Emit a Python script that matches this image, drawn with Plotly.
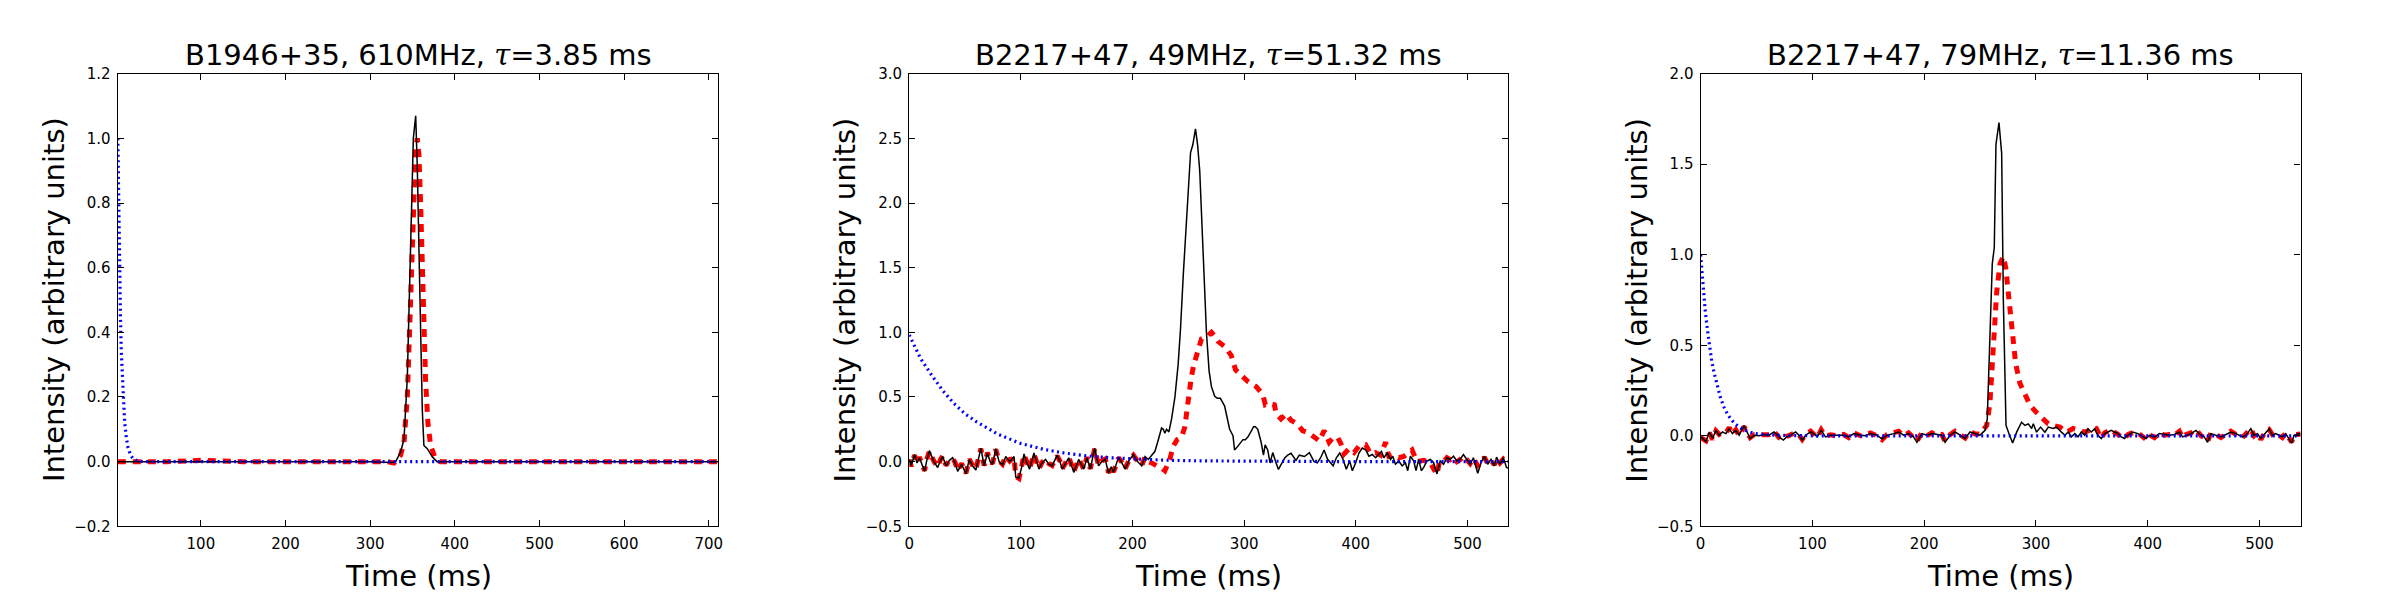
import plotly.graph_objects as go

# ---------------- data ----------------
titles = ["B1946+35, 610MHz, ", "B2217+47, 49MHz, ", "B2217+47, 79MHz, "]
tau_text = ["3.85 ms", "51.32 ms", "11.36 ms"]
x_label = "Time (ms)"
y_label = "Intensity (arbitrary units)"

x_ranges = [[1.9, 711.3], [0, 536.5], [0, 536.7]]
y_ranges = [[-0.2, 1.2], [-0.5, 3.0], [-0.5, 2.0]]
x_ticks = [[100, 200, 300, 400, 500, 600, 700],
           [0, 100, 200, 300, 400, 500],
           [0, 100, 200, 300, 400, 500]]
y_ticks = [[-0.2, 0.0, 0.2, 0.4, 0.6, 0.8, 1.0, 1.2],
           [-0.5, 0.0, 0.5, 1.0, 1.5, 2.0, 2.5, 3.0],
           [-0.5, 0.0, 0.5, 1.0, 1.5, 2.0]]
y_ticktext = [["\u22120.2", "0.0", "0.2", "0.4", "0.6", "0.8", "1.0", "1.2"],
              ["\u22120.5", "0.0", "0.5", "1.0", "1.5", "2.0", "2.5", "3.0"],
              ["\u22120.5", "0.0", "0.5", "1.0", "1.5", "2.0"]]

# ---- panel 1 : B1946+35 610 MHz ----
t1_obs = [1.9, 50, 100, 150, 200, 250, 300, 325, 330.2, 336,
          340, 343.9, 347.8, 351, 353.8, 355.7, 358.4, 361.6, 363.5, 367.5,
          373.3, 379, 400, 450, 500, 550, 600, 650, 700, 711.3]
v1_obs = [0.0, 0.0, 0.0, 0.0, 0.0, 0.0, 0.0, -0.003, 0.0, 0.03,
          0.07, 0.26, 0.71, 1.0, 1.07, 0.91, 0.56, 0.16, 0.05, 0.04,
          0.015, 0.0, 0.0, 0.0, 0.0, 0.0, 0.0, 0.0, 0.0, 0.0]
t1_fit = [1.9, 30, 60, 100, 150, 200, 250, 300, 320, 328.2,
          336, 340, 343.9, 347.8, 351, 353.8, 355.7, 357.6, 359.6, 361.6,
          363.5, 365.5, 368.2, 371.4, 377, 383, 420, 500, 600, 711.3]
v1_fit = [0.0, 0.0, 0.0, 0.004, 0.0, 0.0, 0.0, 0.0, 0.0, -0.004,
          0.02, 0.06, 0.2, 0.5, 0.8, 0.97, 1.0, 0.95, 0.8, 0.6,
          0.38, 0.25, 0.12, 0.05, 0.01, 0.0, 0.0, 0.0, 0.0, 0.0]
t1_ker = [1.9, 2.5, 3, 3.5, 4, 5, 6, 7, 8, 9,
          10, 12, 14, 17, 20, 25, 30, 40, 711.3]
v1_ker = [1.0, 0.86, 0.75, 0.66, 0.58, 0.45, 0.34, 0.27, 0.205, 0.16,
          0.12, 0.073, 0.043, 0.02, 0.009, 0.0025, 0.0007, 0.0, 0.0]

# ---- panel 2 : B2217+47 49 MHz ----
t2_obs = [0, 1.8, 4.75, 7, 9.2, 11.5, 13.7, 16, 18.1, 22,
          25.5, 28, 30, 33, 36, 38.9, 41, 43.4, 47, 50.8,
          53.8, 56.5, 59.7, 62, 64.2, 67.1, 70.1, 72.5, 74.6, 77.5,
          80.5, 83.5, 86.5, 90, 93.9, 95.4, 98.3, 100.5, 102.8, 105,
          107.8, 111.7, 114, 116.2, 119, 122.1, 125, 128, 132.5, 135,
          137, 140, 142.9, 145, 147.4, 151.8, 154, 156.3, 159.2, 162.2,
          166.1, 169.6, 172.5, 175.6, 178.5, 181, 183, 187.5, 190.5, 193.4,
          197, 200.8, 204.5, 208.3, 211.2, 214.2, 217.2, 220.1, 222.5, 224.6,
          226, 227.6, 229, 230.5, 232.6, 235, 238, 240.9, 243, 245.5,
          247.8, 250, 252, 254, 256.4, 258.3, 260.2, 263.2, 266.2, 268.6,
          270.7, 273.6, 276, 278.7, 282.5, 285, 287, 290, 291.4, 294.4,
          296.5, 298.9, 301, 303.3, 306, 308.4, 310, 312.2, 315.2, 317.3,
          318.8, 321.1, 323.2, 325.6, 328.6, 330.7, 333.9, 336.5, 339, 342,
          346.4, 349.4, 354, 358.4, 362.6, 365.6, 368.5, 371.6, 374.6, 377.6,
          379.7, 382.6, 385.6, 388.6, 391.5, 394.5, 396.9, 399.9, 402.8, 405.8,
          408.8, 411.7, 414.7, 417.7, 420.7, 423, 425.1, 428.1, 431.1, 433.1,
          435.5, 438.5, 441.5, 444.4, 446.5, 448.9, 451.9, 453.9, 456.3, 458.7,
          460.8, 463.7, 466.7, 469.7, 472.7, 475.6, 478.6, 481.6, 484.5, 487.5,
          490.5, 493.4, 496.4, 499.4, 502.4, 505.3, 509.2, 512.2, 515.1, 518.1,
          521.1, 524.1, 526.1, 529.1, 532.1, 535, 536.5]
v2_obs = [0.02, -0.03, 0.055, -0.01, 0.03, -0.02, -0.075, 0.02, 0.085, 0.0,
          -0.045, 0.01, 0.04, -0.033, 0.01, 0.03, -0.01, -0.075, -0.02, -0.095,
          0.017, -0.03, -0.065, 0.02, 0.105, -0.033, 0.067, 0.0, -0.02, 0.10,
          0.0, -0.025, 0.04, 0.0, 0.04, -0.12, -0.125, -0.05, 0.06, 0.0,
          -0.058, 0.067, 0.0, -0.058, -0.01, 0.017, -0.02, -0.033, 0.05, 0.0,
          -0.058, -0.01, 0.03, -0.02, -0.083, 0.017, -0.02, -0.058, 0.03, -0.058,
          0.105, -0.033, 0.0, 0.017, -0.09, -0.04, -0.083, 0.035, -0.01, -0.058,
          0.01, 0.055, 0.0, -0.033, 0.04, 0.017, 0.05, 0.08, 0.15, 0.217,
          0.26, 0.25, 0.22, 0.25, 0.23, 0.33, 0.5, 0.754, 1.03, 1.45,
          1.83, 2.1, 2.39, 2.45, 2.573, 2.45, 2.25, 1.63, 1.0, 0.70,
          0.58, 0.505, 0.49, 0.49, 0.43, 0.33, 0.25, 0.2, 0.09, 0.12,
          0.14, 0.17, 0.17, 0.19, 0.23, 0.27, 0.27, 0.25, 0.15, 0.05,
          0.13, 0.09, -0.01, 0.07, -0.01, -0.06, -0.01, 0.03, 0.05, 0.065,
          0.01, 0.05, 0.04, 0.07, 0.0, -0.01, 0.03, 0.09, 0.02, -0.008,
          -0.033, 0.03, 0.067, 0.017, -0.058, 0.005, -0.07, -0.008, 0.067, 0.105,
          0.092, 0.042, 0.055, 0.03, 0.055, 0.08, 0.03, 0.067, 0.017, 0.042,
          -0.02, 0.005, -0.033, -0.008, -0.07, 0.042, 0.005, -0.07, 0.017, -0.07,
          -0.045, 0.005, 0.017, -0.008, -0.095, 0.005, -0.02, 0.03, 0.017, 0.042,
          0.005, 0.017, 0.055, 0.017, -0.02, 0.03, -0.09, -0.008, 0.042, -0.02,
          0.017, -0.033, 0.035, -0.02, 0.03, -0.045, -0.05]
t2_fit = [0, 1.8, 4.75, 7, 9.2, 11.5, 13.7, 16, 18.1, 22,
          25.5, 28, 30, 33, 36, 38.9, 41, 43.4, 47, 50.8,
          53.8, 56.5, 59.7, 62, 64.2, 67.1, 70.1, 72.5, 74.6, 77.5,
          80.5, 83.5, 86.5, 90, 93.9, 95.4, 98.3, 100.5, 102.8, 105,
          107.8, 111.7, 114, 116.2, 119, 122.1, 125, 128, 132.5, 135,
          137, 140, 142.9, 145, 147.4, 151.8, 154, 156.3, 159.2, 162.2,
          166.1, 169.6, 172.5, 175.6, 178.5, 181, 183, 187.5, 190.5, 193.4,
          197, 200.8, 204.5, 208.3, 211.2,
          214, 217.2, 220, 223, 226, 229, 231, 233.5, 236.5, 240,
          244, 246.9, 248.8, 250.8, 252.8, 254.9, 257.9, 261.8, 266.2, 270.7,
          273.5, 276.6, 282.6, 288.5, 292.3, 297.4, 303.3, 310.8, 316.7, 319,
          322.6, 327.1, 328.6, 333, 337.5, 341.9, 347.9, 352.3, 358.3, 364.3,
          367.2, 371.7, 376.1, 379.1, 383.5, 386.6, 389.5, 394, 398.4, 402.9,
          408.8, 413.3, 417.7, 422.2, 426.7, 429.6, 434, 438.5, 443, 450.4,
          454.8, 460.8, 466.7, 472.6, 475, 478.6, 481.6, 484.5, 487.5, 490.5,
          493.4, 496.4, 499.4, 502.4, 505.3, 509.2, 512.2, 515.1, 518.1, 521.1,
          524.1, 526.1, 529.1, 532.1, 535, 536.5]
v2_fit = [0.015, -0.035, 0.05, -0.015, 0.035, -0.015, -0.07, 0.025, 0.08, 0.005,
          -0.04, 0.015, 0.045, -0.03, 0.015, 0.025, -0.005, -0.07, -0.015, -0.09,
          0.02, -0.025, -0.06, 0.025, 0.1, -0.03, 0.07, 0.005, -0.015, 0.095,
          0.005, -0.02, 0.045, 0.005, 0.035, -0.115, -0.13, -0.045, 0.055, 0.005,
          -0.055, 0.06, 0.005, -0.055, -0.005, 0.02, -0.015, -0.03, 0.045, 0.005,
          -0.055, -0.005, 0.035, -0.015, -0.078, 0.02, -0.015, -0.055, 0.035, -0.055,
          0.1, -0.03, 0.005, 0.02, -0.085, -0.035, -0.08, 0.03, -0.005, -0.055,
          0.015, 0.05, 0.005, -0.03, 0.035,
          0.0, -0.01, -0.03, -0.04, -0.05, -0.07, -0.03, 0.02, 0.12, 0.17,
          0.19, 0.27, 0.4, 0.56, 0.66, 0.75, 0.85, 0.95, 0.965, 1.0,
          0.97, 0.93, 0.89, 0.82, 0.71, 0.67, 0.62, 0.58, 0.52, 0.44,
          0.45, 0.44, 0.37, 0.33, 0.37, 0.32, 0.29, 0.24, 0.22, 0.18,
          0.16, 0.24, 0.15, 0.18, 0.19, 0.14, 0.06, 0.1, 0.07, 0.12,
          0.13, 0.06, 0.07, 0.05, 0.15, 0.04, 0.05, 0.03, 0.04, 0.09,
          0.0, 0.01, -0.01, -0.1, 0.0, 0.0, 0.03, 0.015, 0.035, 0.0,
          0.015, 0.045, 0.01, -0.015, 0.025, -0.03, -0.01, 0.035, -0.015, 0.01,
          -0.025, 0.03, -0.01, 0.02, -0.005, 0.0]
t2_ker = [0, 10, 20, 30, 40, 50, 60, 80, 100, 120,
          140, 160, 180, 200, 230, 260, 300, 350, 400, 536.5]
v2_ker = [0.98, 0.8, 0.67, 0.55, 0.45, 0.37, 0.31, 0.21, 0.14, 0.096,
          0.065, 0.044, 0.03, 0.02, 0.011, 0.006, 0.003, 0.001, 0.0, 0.0]

# ---- panel 3 : B2217+47 79 MHz ----
t3_obs = [0.3, 4.8, 7.7, 10.7, 13.7, 16.6, 19.6, 22.6, 25.6, 28.5,
          31.5, 34.5, 38.9, 41.9, 44.3, 47.8, 52.3, 56.8, 61.2, 65.7,
          70.1, 74, 77, 80.5, 85, 88, 90.9, 93.9, 98.4, 101.3,
          104.3, 107.9, 111.7, 116.2, 122.1, 128.1, 132.5, 137, 143, 147.4,
          151.9, 157.8, 162.3, 166.7, 172.7, 177.1, 181.6, 186, 190.5, 193.5,
          197.9, 202.4, 206.8, 211.3, 215.7, 218.7, 223.2, 227.6, 232.1, 236.6,
          241, 245.5, 249.9, 251.4, 254.4, 256.4, 258.8, 260.9, 262.7, 264.2,
          266.9, 269.3, 270.8, 273.2, 275.8, 279.1, 282.7, 287.1, 290.1, 293.1,
          296.1, 297.6, 300.5, 304.1, 308, 311, 315.4, 318.3, 322.8, 326,
          328.7, 331.7, 334.7, 337.6, 340.6, 343.6, 346.5, 349.5, 352.5, 355.5,
          358.4, 361.4, 364.4, 367.3, 370.3, 373.3, 376.3, 379.2, 382.2, 386.7,
          391.1, 395.6, 398.5, 401.5, 406, 410.4, 414.9, 419.3, 423.8, 428.3,
          431.2, 434.2, 438.7, 443.1, 447.6, 450.5, 453.5, 456.5, 461, 465.4,
          469.9, 474.3, 478.8, 481.8, 484.7, 487.7, 492.2, 495.1, 498.1, 501.1,
          505.5, 508.5, 511.5, 514.4, 517.4, 520.4, 523.4, 526.3, 528.7, 530.8,
          535.2, 536.7]
v3_obs = [-0.006, -0.032, 0.021, -0.015, 0.03, 0.003, 0.021, 0.012, 0.039, 0.012,
          0.03, 0.003, 0.057, 0.021, -0.015, 0.003, 0.0, 0.007, 0.003, 0.021,
          -0.006, -0.024, -0.006, 0.003, 0.021, 0.003, -0.024, 0.003, 0.021, 0.012,
          -0.006, 0.03, -0.006, 0.003, 0.003, 0.003, -0.006, 0.012, 0.003, 0.0,
          0.012, 0.003, -0.018, 0.003, 0.012, 0.021, 0.003, 0.012, -0.006, -0.036,
          0.012, 0.003, 0.012, 0.007, 0.003, -0.036, 0.003, 0.021, 0.003, -0.015,
          0.021, 0.012, 0.003, 0.012, 0.03, 0.09, 0.57, 0.95, 1.04, 1.61,
          1.73, 1.56, 0.75, 0.057, 0.012, -0.04, 0.02, 0.075, 0.057, 0.066,
          0.04, 0.066, 0.02, 0.048, 0.02, 0.048, 0.04, 0.048, 0.02, 0.003,
          0.021, -0.006, 0.012, -0.006, 0.021, 0.003, 0.039, 0.021, 0.039, 0.003,
          -0.015, 0.012, 0.021, 0.03, 0.021, 0.012, -0.006, -0.015, 0.003, 0.021,
          0.012, -0.006, -0.015, 0.003, -0.006, 0.012, 0.007, 0.003, 0.007, 0.021,
          -0.006, 0.003, 0.012, 0.03, 0.003, -0.006, -0.036, 0.012, 0.003, -0.006,
          0.007, 0.021, 0.012, 0.003, -0.006, 0.003, 0.039, 0.003, 0.012, -0.015,
          0.021, 0.039, 0.003, 0.012, 0.003, -0.006, 0.012, -0.015, -0.041, 0.003,
          0.012, 0.01]
t3_fit = [0.3, 4.8, 7.7, 10.7, 13.7, 16.6, 19.6, 22.6, 25.6, 28.5,
          31.5, 34.5, 38.9, 41.9, 44.3, 47.8, 52.3, 56.8, 61.2, 65.7,
          70.1, 74, 77, 80.5, 85, 88, 90.9, 93.9, 98.4, 101.3,
          104.3, 107.9, 111.7, 116.2, 122.1, 128.1, 132.5, 137, 143, 147.4,
          151.9, 157.8, 162.3, 166.7, 172.7, 177.1, 181.6, 186, 190.5, 193.5,
          197.9, 202.4, 206.8, 211.3, 215.7, 218.7, 223.2, 227.6, 232.1, 236.6,
          241, 245.5, 249.9,
          253.5, 255.9, 258.8, 261.8, 264.8, 267.8, 270.8, 272.9, 275.2, 278.2,
          281.8, 285.6, 290.1, 294.6, 300.5, 306.5, 311, 315.4, 321.4, 327.3,
          333.2, 339.1, 343.6, 348, 351, 354, 358.4,
          361.4, 364.4, 367.3, 370.3, 373.3, 376.3, 379.2, 382.2, 386.7,
          391.1, 395.6, 398.5, 401.5, 406, 410.4, 414.9, 419.3, 423.8, 428.3,
          431.2, 434.2, 438.7, 443.1, 447.6, 450.5, 453.5, 456.5, 461, 465.4,
          469.9, 474.3, 478.8, 481.8, 484.7, 487.7, 492.2, 495.1, 498.1, 501.1,
          505.5, 508.5, 511.5, 514.4, 517.4, 520.4, 523.4, 526.3, 528.7, 530.8,
          535.2, 536.7]
v3_fit = [-0.01, -0.028, 0.018, -0.02, 0.027, 0.008, 0.017, 0.015, 0.045, 0.008,
          0.033, 0.0, 0.05, 0.018, -0.01, 0.006, 0.004, 0.003, 0.006, 0.025,
          -0.01, -0.02, -0.003, 0.006, 0.018, 0.006, -0.02, 0.007, 0.025, 0.008,
          -0.01, 0.033, -0.003, 0.006, 0.0, 0.007, -0.01, 0.016, 0.0, 0.004,
          0.016, 0.0, -0.022, 0.006, 0.016, 0.025, 0.0, 0.016, -0.01, -0.03,
          0.016, 0.0, 0.016, 0.003, 0.007, -0.03, 0.006, 0.025, 0.007, -0.012,
          0.025, 0.01, 0.01,
          0.04, 0.057, 0.18, 0.54, 0.79, 0.95, 0.99, 0.93, 0.79, 0.57,
          0.40, 0.29, 0.226, 0.17, 0.128, 0.092, 0.066, 0.057, 0.048, 0.02,
          0.04, 0.03, 0.02, 0.03, 0.048, 0.04, -0.015,
          0.016, 0.025, 0.035, 0.018, 0.008, -0.01, -0.012, 0.006, 0.018,
          0.016, -0.01, -0.02, 0.006, -0.01, 0.016, 0.003, 0.007, 0.003, 0.025,
          -0.01, 0.007, 0.016, 0.035, 0.0, -0.01, -0.032, 0.016, 0.007, -0.01,
          0.01, 0.025, 0.008, 0.007, -0.01, 0.007, 0.04, 0.0, 0.016, -0.02,
          0.025, 0.035, 0.007, 0.016, 0.0, -0.01, 0.016, -0.02, -0.035, 0.006,
          0.01, 0.01]
t3_ker = [0, 2, 4, 6, 8, 10, 12, 15, 18, 21,
          24, 27, 30, 35, 40, 45, 50, 60, 70, 80,
          100, 536.7]
v3_ker = [1.0, 0.84, 0.70, 0.59, 0.49, 0.41, 0.35, 0.27, 0.205, 0.157,
          0.12, 0.093, 0.071, 0.046, 0.03, 0.019, 0.012, 0.005, 0.002, 0.001,
          0.0, 0.0]

# ---------------- figure ----------------
W, H = 2400, 600
FONT = "DejaVu Sans"
# plot-area boxes in pixels: (left, right), top, bottom
x_px = [(113.3, 716.3), (908.0, 1509.5), (1702.7, 2305.2)]
top_px, bot_px = 66.7, 533.3

panels = [
    (t1_obs, v1_obs, t1_fit, v1_fit, t1_ker, v1_ker),
    (t2_obs, v2_obs, t2_fit, v2_fit, t2_ker, v2_ker),
    (t3_obs, v3_obs, t3_fit, v3_fit, t3_ker, v3_ker),
]

fig = go.Figure()
annotations = []
for i, (to, vo, tf, vf, tk, vk) in enumerate(panels):
    xa = "x" if i == 0 else f"x{i+1}"
    ya = "y" if i == 0 else f"y{i+1}"
    fig.add_trace(go.Scatter(x=tf, y=vf, mode="lines", xaxis=xa, yaxis=ya,
                             line=dict(color="#ff0000", width=5, dash="8px,7px"),
                             showlegend=False, hoverinfo="skip"))
    fig.add_trace(go.Scatter(x=to, y=vo, mode="lines", xaxis=xa, yaxis=ya,
                             line=dict(color="#000000", width=1.5),
                             showlegend=False, hoverinfo="skip"))
    fig.add_trace(go.Scatter(x=tk, y=vk, mode="lines", xaxis=xa, yaxis=ya,
                             line=dict(color="#0000ff", width=3.2, dash="2px,3.5px"),
                             showlegend=False, hoverinfo="skip"))

    l, r = x_px[i]
    dom_x = [l / W, r / W]
    dom_y = [1 - bot_px / H, 1 - top_px / H]
    axis_common = dict(showline=True, linecolor="black", linewidth=1.3,
                       mirror="ticks", ticks="inside", ticklen=6, tickwidth=1,
                       tickcolor="black", showgrid=False, zeroline=False,
                       tickfont=dict(family=FONT, size=15, color="black"))
    fig.update_layout(**{
        ("xaxis" if i == 0 else f"xaxis{i+1}"): dict(
            domain=dom_x, range=x_ranges[i], anchor=ya,
            tickmode="array", tickvals=x_ticks[i],
            ticktext=[str(v) for v in x_ticks[i]],
            ticklabelstandoff=4, **axis_common),
        ("yaxis" if i == 0 else f"yaxis{i+1}"): dict(
            domain=dom_y, range=y_ranges[i], anchor=xa,
            tickmode="array", tickvals=y_ticks[i], ticktext=y_ticktext[i],
            ticklabelstandoff=3, **axis_common),
    })

    cx = (l + r) / 2 / W
    annotations.append(dict(
        text=titles[i] + "<span style=\"font-family:'DejaVu Serif'\"><i>\u03c4</i></span>=" + tau_text[i],
        x=cx, y=1 - 67 / H, xref="paper", yref="paper",
        xanchor="center", yanchor="bottom", showarrow=False,
        font=dict(family=FONT, size=29, color="black")))
    annotations.append(dict(
        text=x_label, x=cx, y=1 - 585 / H, xref="paper", yref="paper",
        xanchor="center", yanchor="middle", showarrow=False,
        font=dict(family=FONT, size=29, color="black")))
    annotations.append(dict(
        text=y_label, x=(l - 64) / W, y=1 - 300 / H, xref="paper", yref="paper",
        xanchor="center", yanchor="middle", textangle=-90, showarrow=False,
        font=dict(family=FONT, size=29, color="black")))

fig.update_layout(width=W, height=H, margin=dict(l=0, r=0, t=0, b=0),
                  paper_bgcolor="white", plot_bgcolor="white",
                  annotations=annotations, font=dict(family=FONT))
fig.write_html("out.html")
